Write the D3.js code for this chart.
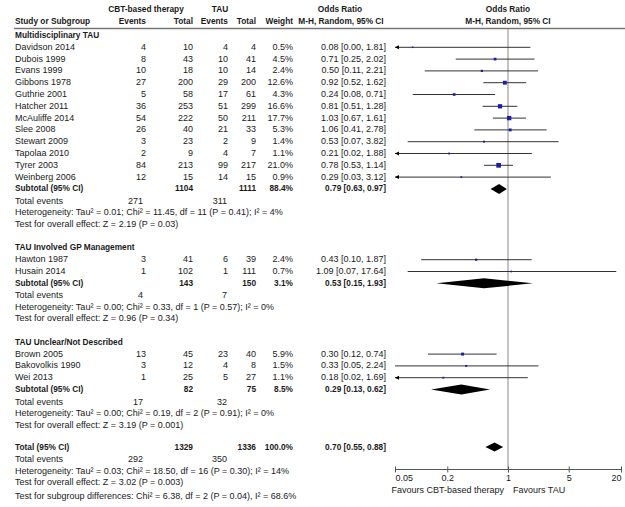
<!DOCTYPE html>
<html>
<head>
<meta charset="utf-8">
<script src="https://cdn.jsdelivr.net/npm/d3@7"></script>
<style>
  body { margin: 0; background: #fff; }
  text { font-family: "Liberation Sans", Arial, sans-serif; font-size: 9px; fill: #1a1a1a; }
  .b { font-weight: bold; font-size: 8.3px; }
</style>
</head>
<body>
<div id="container"></div>
<script>
let w = 625;
let h = 507;

// group names
let groupNames = ["Multidisciplinary TAU", "TAU Involved GP Management", "TAU Unclear/Not Described"];

// study rows
let studyGroup = [0,0,0,0,0,0,0,0,0,0,0,0, 1,1, 2,2,2];
let studyNames = ["Davidson 2014","Dubois 1999","Evans 1999","Gibbons 1978","Guthrie 2001","Hatcher 2011",
  "McAuliffe 2014","Slee 2008","Stewart 2009","Tapolaa 2010","Tyrer 2003","Weinberg 2006",
  "Hawton 1987","Husain 2014","Brown 2005","Bakovolkis 1990","Wei 2013"];
let cbtEvents = [4,8,10,27,5,36,54,26,3,2,84,12, 3,1, 13,3,1];
let cbtTotal = [10,43,18,200,58,253,222,40,23,9,213,15, 41,102, 45,12,25];
let tauEvents = [4,10,10,29,17,51,50,21,2,4,99,14, 6,1, 23,4,5];
let tauTotal = [4,41,14,200,61,299,211,33,9,7,217,15, 39,111, 40,8,27];
let weights = [0.5,4.5,2.4,12.6,4.3,16.6,17.7,5.3,1.4,1.1,21.0,0.9, 2.4,0.7, 5.9,1.5,1.1];
let orVal = [0.08,0.71,0.50,0.92,0.24,0.81,1.03,1.06,0.53,0.21,0.78,0.29, 0.43,1.09, 0.30,0.33,0.18];
let orLo = [0.00,0.25,0.11,0.52,0.08,0.51,0.67,0.41,0.07,0.02,0.53,0.03, 0.10,0.07, 0.12,0.05,0.02];
let orHi = [1.81,2.02,2.21,1.62,0.71,1.28,1.61,2.78,3.82,1.88,1.14,3.12, 1.87,17.64, 0.74,2.24,1.69];

// subtotals per group
let subCbtTotal = [1104, 143, 82];
let subTauTotal = [1111, 150, 75];
let subWeight = ["88.4%", "3.1%", "8.5%"];
let subOr = [0.79, 0.53, 0.29];
let subLo = [0.63, 0.15, 0.13];
let subHi = [0.97, 1.93, 0.62];
let subCbtEvents = [271, 4, 17];
let subTauEvents = [311, 7, 32];
let subHet = [
  "Heterogeneity: Tau\u00b2 = 0.01; Chi\u00b2 = 11.45, df = 11 (P = 0.41); I\u00b2 = 4%",
  "Heterogeneity: Tau\u00b2 = 0.00; Chi\u00b2 = 0.33, df = 1 (P = 0.57); I\u00b2 = 0%",
  "Heterogeneity: Tau\u00b2 = 0.00; Chi\u00b2 = 0.19, df = 2 (P = 0.91); I\u00b2 = 0%"];
let subTest = [
  "Test for overall effect: Z = 2.19 (P = 0.03)",
  "Test for overall effect: Z = 0.96 (P = 0.34)",
  "Test for overall effect: Z = 3.19 (P = 0.001)"];

// overall
let totCbtTotal = 1329, totTauTotal = 1336, totWeight = "100.0%";
let totOr = 0.70, totLo = 0.55, totHi = 0.88;
let totCbtEvents = 292, totTauEvents = 350;
let totLines = [
  "Heterogeneity: Tau\u00b2 = 0.03; Chi\u00b2 = 18.50, df = 16 (P = 0.30); I\u00b2 = 14%",
  "Test for overall effect: Z = 3.02 (P = 0.003)",
  "Test for subgroup differences: Chi\u00b2 = 6.38, df = 2 (P = 0.04), I\u00b2 = 68.6%"];

let axisTicks = [0.05, 0.2, 1, 5, 20];

let viz = d3.select("#container").append("svg")
    .attr("width", w)
    .attr("height", h);

let x = d3.scaleLog().domain([0.05, 20]).range([395, 621]);

// column x positions (right edges)
let colName = 15, colE1 = 146, colT1 = 193, colE2 = 228, colT2 = 256, colW = 293, colOR = 386;
let fmt2 = d3.format(".2f");
function ciText(o, l, u) { return fmt2(o) + " [" + fmt2(l) + ", " + fmt2(u) + "]"; }

function txt(xp, yp, s, anchor, bold) {
  viz.append("text").attr("x", xp).attr("y", yp + 3)
    .attr("text-anchor", anchor || "start")
    .attr("class", bold ? "b" : null)
    .text(s);
}

// header
txt(146, 9, "CBT-based therapy", "middle", true);
txt(220, 9, "TAU", "middle", true);
txt(340, 9, "Odds Ratio", "middle", true);
txt(x(1), 9, "Odds Ratio", "middle", true);
txt(colName, 21, "Study or Subgroup", "start", true);
txt(colE1, 21, "Events", "end", true);
txt(colT1, 21, "Total", "end", true);
txt(colE2, 21, "Events", "end", true);
txt(colT2, 21, "Total", "end", true);
txt(colW, 21, "Weight", "end", true);
txt(341, 21, "M-H, Random, 95% CI", "middle", true);
txt(x(1), 21, "M-H, Random, 95% CI", "middle", true);

viz.append("line").attr("x1", 14).attr("x2", w).attr("y1", 28.5).attr("y2", 28.5)
  .attr("stroke", "#777").attr("stroke-width", 1.5);

let axisY = 469.5;
// line of no effect
viz.append("line").attr("x1", x(1)).attr("x2", x(1)).attr("y1", 29).attr("y2", axisY)
  .attr("stroke", "#888").attr("stroke-width", 1);

let rowH = 11.8;
let y = 35;

function diamond(yc, o, l, u, hh) {
  let pts = [[x(l), yc], [x(o), yc - hh / 2], [x(u), yc], [x(o), yc + hh / 2]];
  viz.append("path").attr("d", "M" + pts.join("L") + "Z").attr("fill", "#000");
}

groupNames.forEach(function(g, gi) {
  txt(colName, y, g, "start", true);
  studyNames.forEach(function(name, i) {
    if (studyGroup[i] != gi) return;
    y += rowH;
    txt(colName, y, name);
    txt(colE1, y, cbtEvents[i], "end");
    txt(colT1, y, cbtTotal[i], "end");
    txt(colE2, y, tauEvents[i], "end");
    txt(colT2, y, tauTotal[i], "end");
    txt(colW, y, weights[i].toFixed(1) + "%", "end");
    txt(colOR, y, ciText(orVal[i], orLo[i], orHi[i]), "end");
    let lo = Math.max(orLo[i], 0.05);
    let hi = Math.min(orHi[i], 20);
    viz.append("line").attr("x1", x(lo)).attr("x2", x(hi)).attr("y1", y + 0.5).attr("y2", y + 0.5)
      .attr("stroke", "#333").attr("stroke-width", 1);
    if (orLo[i] < 0.05) {
      let ax = x(0.05);
      viz.append("path").attr("d", "M" + ax + "," + (y + 0.5) + "L" + (ax + 4) + "," + (y - 1.5) + "L" + (ax + 4) + "," + (y + 2.5) + "Z")
        .attr("fill", "#000");
    }
    let s = 1 + Math.sqrt(weights[i]) * 0.8;
    viz.append("rect").attr("x", x(orVal[i]) - s / 2).attr("y", y + 0.5 - s / 2)
      .attr("width", s).attr("height", s).attr("fill", "#1c1ca6");
  });
  y += rowH;
  txt(colName, y, "Subtotal (95% CI)", "start", true);
  txt(colT1, y, subCbtTotal[gi], "end", true);
  txt(colT2, y, subTauTotal[gi], "end", true);
  txt(colW, y, subWeight[gi], "end", true);
  txt(colOR, y, ciText(subOr[gi], subLo[gi], subHi[gi]), "end", true);
  diamond(y + 0.5, subOr[gi], subLo[gi], subHi[gi], 10);
  y += 12.5;
  txt(colName, y, "Total events");
  txt(colE1 - 3, y, subCbtEvents[gi], "end");
  txt(colE2 - 1, y, subTauEvents[gi], "end");
  y += 11.5;
  txt(colName, y, subHet[gi]);
  y += 11.5;
  txt(colName, y, subTest[gi]);
  y += 23.5;
});

y -= 1.5;
txt(colName, y, "Total (95% CI)", "start", true);
txt(colT1, y, totCbtTotal, "end", true);
txt(colT2, y, totTauTotal, "end", true);
txt(colW, y, totWeight, "end", true);
txt(colOR, y, ciText(totOr, totLo, totHi), "end", true);
diamond(y + 0.5, totOr, totLo, totHi, 9);
y += 12.5;
txt(colName, y, "Total events");
txt(colE1 - 3, y, totCbtEvents, "end");
txt(colE2 - 1, y, totTauEvents, "end");
y += 11.5;
txt(colName, y, totLines[0]);
y += 11.5;
txt(colName, y, totLines[1]);
y += 13.5;
txt(colName, y, totLines[2]);

// axis
let axisG = viz.append("g").attr("transform", "translate(0," + axisY + ")")
  .call(d3.axisBottom(x).tickValues(axisTicks).tickFormat(d => String(d)).tickSize(3).tickPadding(2));
axisG.select(".domain").attr("stroke", "#555").attr("d", "M" + x(0.05) + ",0H" + x(20));
axisG.selectAll(".tick line").attr("y1", -3).attr("y2", 3).attr("stroke", "#555");
axisG.selectAll(".tick text")
  .style("font-family", "'Liberation Sans', Arial, sans-serif").style("font-size", "9px")
  .attr("fill", "#1a1a1a")
  .attr("text-anchor", (d, i) => i == 0 ? "start" : (i == axisTicks.length - 1 ? "end" : "middle"));

txt(x(1) - 4, axisY + 20, "Favours CBT-based therapy", "end");
txt(x(1) + 5, axisY + 20, "Favours TAU", "start");
</script>
</body>
</html>
